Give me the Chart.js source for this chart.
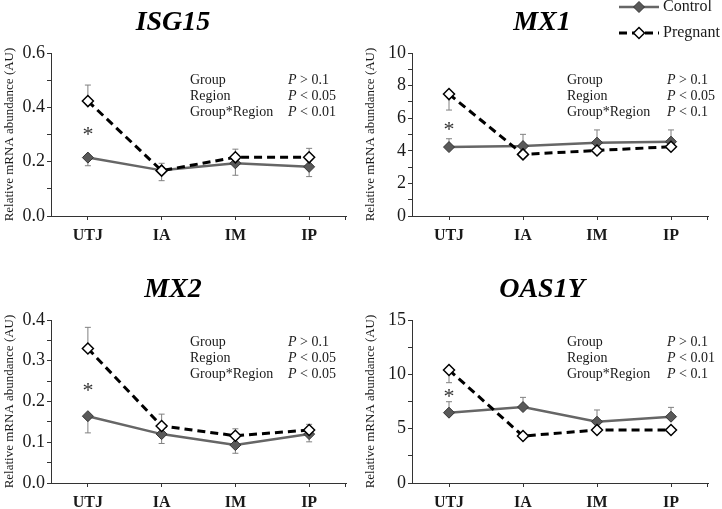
<!DOCTYPE html>
<html>
<head>
<meta charset="utf-8">
<script src="https://cdn.jsdelivr.net/npm/chart.js@4.4.0/dist/chart.umd.min.js"></script>
<style>
  body { margin: 0; background: #fff; }
  #wrap { position: relative; width: 722px; height: 509px; overflow: hidden; }
  .panel { position: absolute; }
</style>
</head>
<body>
<div id="wrap">
  <canvas id="isg15" class="panel" width="361" height="255" style="left:0;top:0;width:361px;height:255px"></canvas>
  <canvas id="mx1" class="panel" width="361" height="255" style="left:361px;top:0;width:361px;height:255px"></canvas>
  <canvas id="mx2" class="panel" width="361" height="254" style="left:0;top:255px;width:361px;height:254px"></canvas>
  <canvas id="oas1y" class="panel" width="361" height="254" style="left:361px;top:255px;width:361px;height:254px"></canvas>
</div>
<script>
const categories = ['UTJ', 'IA', 'IM', 'IP'];
const seriesNames = ['Control', 'Pregnant'];

// ISG15
const isgControl = [0.215, 0.168, 0.194, 0.181];
const isgControlErr = [0.185, 0.13, 0.15, 0.145];
const isgPregnant = [0.423, 0.167, 0.216, 0.216];
const isgPregnantErr = [0.482, 0.194, 0.246, 0.249];
const isgTicks = [0, 0.2, 0.4, 0.6];
const isgTickLabels = ['0.0', '0.2', '0.4', '0.6'];
const isgStar = 0.313;
const isgStats = [['Group', '> 0.1'], ['Region', '< 0.05'], ['Group*Region', '< 0.01']];

// MX1
const mx1Control = [4.23, 4.29, 4.5, 4.56];
const mx1ControlErr = [4.74, 5.01, 5.28, 5.28];
const mx1Pregnant = [7.48, 3.78, 4.02, 4.25];
const mx1PregnantErr = [6.5, null, null, null];
const mx1Ticks = [0, 2, 4, 6, 8, 10];
const mx1TickLabels = ['0', '2', '4', '6', '8', '10'];
const mx1Star = 5.5;
const mx1Stats = [['Group', '> 0.1'], ['Region', '< 0.05'], ['Group*Region', '< 0.1']];

// MX2
const mx2Control = [0.164, 0.120, 0.093, 0.120];
const mx2ControlErr = [0.123, 0.097, 0.073, 0.101];
const mx2Pregnant = [0.330, 0.140, 0.116, 0.130];
const mx2PregnantErr = [0.382, 0.169, 0.133, 0.144];
const mx2Ticks = [0, 0.1, 0.2, 0.3, 0.4];
const mx2TickLabels = ['0.0', '0.1', '0.2', '0.3', '0.4'];
const mx2Star = 0.235;
const mx2Stats = [['Group', '> 0.1'], ['Region', '< 0.05'], ['Group*Region', '< 0.05']];

// OAS1Y
const oasControl = [6.47, 6.99, 5.64, 6.1];
const oasControlErr = [7.48, 7.88, 6.72, 6.96];
const oasPregnant = [10.4, 4.32, 4.88, 4.88];
const oasPregnantErr = [9.23, null, null, null];
const oasTicks = [0, 5, 10, 15];
const oasTickLabels = ['0', '5', '10', '15'];
const oasStar = 8.3;
const oasStats = [['Group', '> 0.1'], ['Region', '< 0.01'], ['Group*Region', '< 0.1']];

const SERIF = "'Liberation Serif', 'Times New Roman', serif";
const TEXT = '#1a1a1a';
const AXIS = '#333333';

// Draws error bars, asterisk, stats block and (optionally) the legend
function makeExtras(p) {
  return {
    id: 'extras',
    beforeDatasetsDraw(chart) {
      const ctx = chart.ctx;
      const y = chart.scales.y;
      ctx.save();
      ctx.strokeStyle = '#808080';
      ctx.lineWidth = 1;
      [p.controlErr, p.pregnantErr].forEach((errs, i) => {
        const meta = chart.getDatasetMeta(i);
        const vals = chart.data.datasets[i].data;
        errs.forEach((e, j) => {
          if (e === null) return;
          const x = meta.data[j].x;
          const y0 = y.getPixelForValue(vals[j]);
          const y1 = y.getPixelForValue(e);
          ctx.beginPath();
          ctx.moveTo(x, y0);
          ctx.lineTo(x, y1);
          ctx.moveTo(x - 3, y1);
          ctx.lineTo(x + 3, y1);
          ctx.stroke();
        });
      });
      ctx.restore();
    },
    afterDraw(chart) {
      const ctx = chart.ctx;
      const area = chart.chartArea;
      const y = chart.scales.y;
      ctx.save();

      // right end tick on the x axis
      ctx.strokeStyle = AXIS;
      ctx.lineWidth = 1;
      ctx.beginPath();
      ctx.moveTo(area.right - 0.5, area.bottom);
      ctx.lineTo(area.right - 0.5, area.bottom + 4);
      ctx.stroke();

      // significance asterisk
      const sx = chart.getDatasetMeta(0).data[0].x;
      ctx.fillStyle = '#333';
      ctx.font = '22px ' + SERIF;
      ctx.textAlign = 'center';
      ctx.textBaseline = 'alphabetic';
      ctx.fillText('*', sx, y.getPixelForValue(p.star) + 10);

      // stats block
      ctx.fillStyle = TEXT;
      ctx.textAlign = 'left';
      ctx.textBaseline = 'middle';
      p.stats.forEach((row, k) => {
        const ty = area.top + p.statsY + k * 16;
        const px = area.left + p.statsPX;
        ctx.font = '14px ' + SERIF;
        ctx.fillText(row[0], area.left + p.statsX, ty);
        ctx.font = 'italic 14px ' + SERIF;
        ctx.fillText('P', px, ty);
        const w = ctx.measureText('P').width;
        ctx.font = '14px ' + SERIF;
        ctx.fillText(' ' + row[1], px + w, ty);
      });

      // legend
      if (p.legend) {
        chart.data.datasets.forEach((ds, i) => {
          const ly = p.legend.y + i * p.legend.gap;
          const x0 = p.legend.x;
          ctx.strokeStyle = ds.borderColor;
          ctx.lineWidth = ds.borderWidth;
          ctx.setLineDash(ds.borderDash || []);
          ctx.beginPath();
          ctx.moveTo(x0, ly);
          ctx.lineTo(x0 + 40, ly);
          ctx.stroke();
          ctx.setLineDash([]);
          ctx.fillStyle = ds.pointBackgroundColor;
          ctx.strokeStyle = ds.pointBorderColor;
          ctx.lineWidth = ds.pointBorderWidth;
          Chart.helpers.drawPoint(ctx, {
            pointStyle: 'rectRot', radius: ds.pointRadius, rotation: 0, borderWidth: ds.pointBorderWidth
          }, x0 + 20, ly);
          ctx.fillStyle = TEXT;
          ctx.font = '16px ' + SERIF;
          ctx.textAlign = 'left';
          ctx.textBaseline = 'middle';
          ctx.fillText(ds.label, x0 + 44, ly);
        });
      }
      ctx.restore();
    }
  };
}

function buildPanel(id, p) {
  const ctx = document.getElementById(id).getContext('2d');
  new Chart(ctx, {
    type: 'line',
    data: {
      labels: categories,
      datasets: [{
        label: seriesNames[0],
        data: p.control,
        borderColor: '#666666',
        borderWidth: 2.5,
        pointStyle: 'rectRot',
        pointRadius: 5.5,
        pointBackgroundColor: '#595959',
        pointBorderColor: '#333333',
        pointBorderWidth: 1,
        order: 1
      }, {
        label: seriesNames[1],
        data: p.pregnant,
        borderColor: '#000000',
        borderWidth: 3,
        borderDash: [8, 5],
        pointStyle: 'rectRot',
        pointRadius: 5.5,
        pointBackgroundColor: '#ffffff',
        pointBorderColor: '#000000',
        pointBorderWidth: 1.5,
        order: 0
      }]
    },
    options: {
      responsive: false,
      animation: false,
      layout: { padding: { left: p.padLeft, right: p.padRight, top: 0, bottom: 0 } },
      plugins: {
        legend: { display: false },
        tooltip: { enabled: false },
        title: {
          display: true,
          text: p.title,
          color: '#000',
          font: { family: SERIF, size: 28, weight: 'bold', style: 'italic', lineHeight: 1.2 },
          padding: { top: p.titleTop, bottom: 13.2 }
        }
      },
      scales: {
        x: {
          offset: true,
          afterFit(scale) { scale.height = p.xHeight; },
          grid: { offset: false, drawOnChartArea: false, drawTicks: true, tickLength: 4, color: AXIS },
          border: { display: true, color: AXIS, width: 1 },
          ticks: { color: TEXT, padding: 6, font: { family: SERIF, size: 16, weight: 'bold' } }
        },
        y: {
          min: 0,
          max: p.ticks[p.ticks.length - 1],
          afterFit(scale) { scale.width = p.yWidth; },
          afterBuildTicks(scale) {
            const vals = [];
            p.ticks.forEach((t, i) => {
              vals.push(t);
              if (i < p.ticks.length - 1) vals.push((t + p.ticks[i + 1]) / 2);
            });
            scale.ticks = vals.map(v => ({ value: v }));
          },
          grid: { drawOnChartArea: false, drawTicks: true, tickLength: 4, color: AXIS },
          border: { display: true, color: AXIS, width: 1 },
          ticks: {
            autoSkip: false,
            color: TEXT,
            padding: 2,
            font: { family: SERIF, size: 18 },
            callback: function(value) {
              const i = p.ticks.findIndex(t => Math.abs(t - value) < 1e-9);
              return i >= 0 ? p.tickLabels[i] : '';
            }
          },
          title: {
            display: true,
            text: 'Relative mRNA abundance (AU)',
            color: TEXT,
            font: { family: SERIF, size: 13, lineHeight: 1.2 },
            padding: { top: p.yTitlePad, bottom: 0 }
          }
        }
      }
    },
    plugins: [makeExtras(p)]
  });
}

document.addEventListener('DOMContentLoaded', function() {
  buildPanel('isg15', {
    title: 'ISG15', control: isgControl, controlErr: isgControlErr,
    pregnant: isgPregnant, pregnantErr: isgPregnantErr,
    ticks: isgTicks, tickLabels: isgTickLabels, star: isgStar, stats: isgStats,
    padLeft: 0, padRight: 15, yWidth: 51, yTitlePad: 2, titleTop: 6.2, xHeight: 39,
    statsX: 139, statsPX: 237, statsY: 27
  });
  buildPanel('mx1', {
    title: 'MX1', control: mx1Control, controlErr: mx1ControlErr,
    pregnant: mx1Pregnant, pregnantErr: mx1PregnantErr,
    ticks: mx1Ticks, tickLabels: mx1TickLabels, star: mx1Star, stats: mx1Stats,
    padLeft: 15, padRight: 14, yWidth: 36, yTitlePad: -13, titleTop: 6.2, xHeight: 39,
    statsX: 155, statsPX: 255, statsY: 27,
    legend: { x: 258, y: 7, gap: 26 }
  });
  buildPanel('mx2', {
    title: 'MX2', control: mx2Control, controlErr: mx2ControlErr,
    pregnant: mx2Pregnant, pregnantErr: mx2PregnantErr,
    ticks: mx2Ticks, tickLabels: mx2TickLabels, star: mx2Star, stats: mx2Stats,
    padLeft: 0, padRight: 15, yWidth: 51, yTitlePad: 2, titleTop: 18.2, xHeight: 26,
    statsX: 139, statsPX: 237, statsY: 22
  });
  buildPanel('oas1y', {
    title: 'OAS1Y', control: oasControl, controlErr: oasControlErr,
    pregnant: oasPregnant, pregnantErr: oasPregnantErr,
    ticks: oasTicks, tickLabels: oasTickLabels, star: oasStar, stats: oasStats,
    padLeft: 15, padRight: 14, yWidth: 36, yTitlePad: -13, titleTop: 18.2, xHeight: 26,
    statsX: 155, statsPX: 255, statsY: 22
  });
});
</script>
</body>
</html>
